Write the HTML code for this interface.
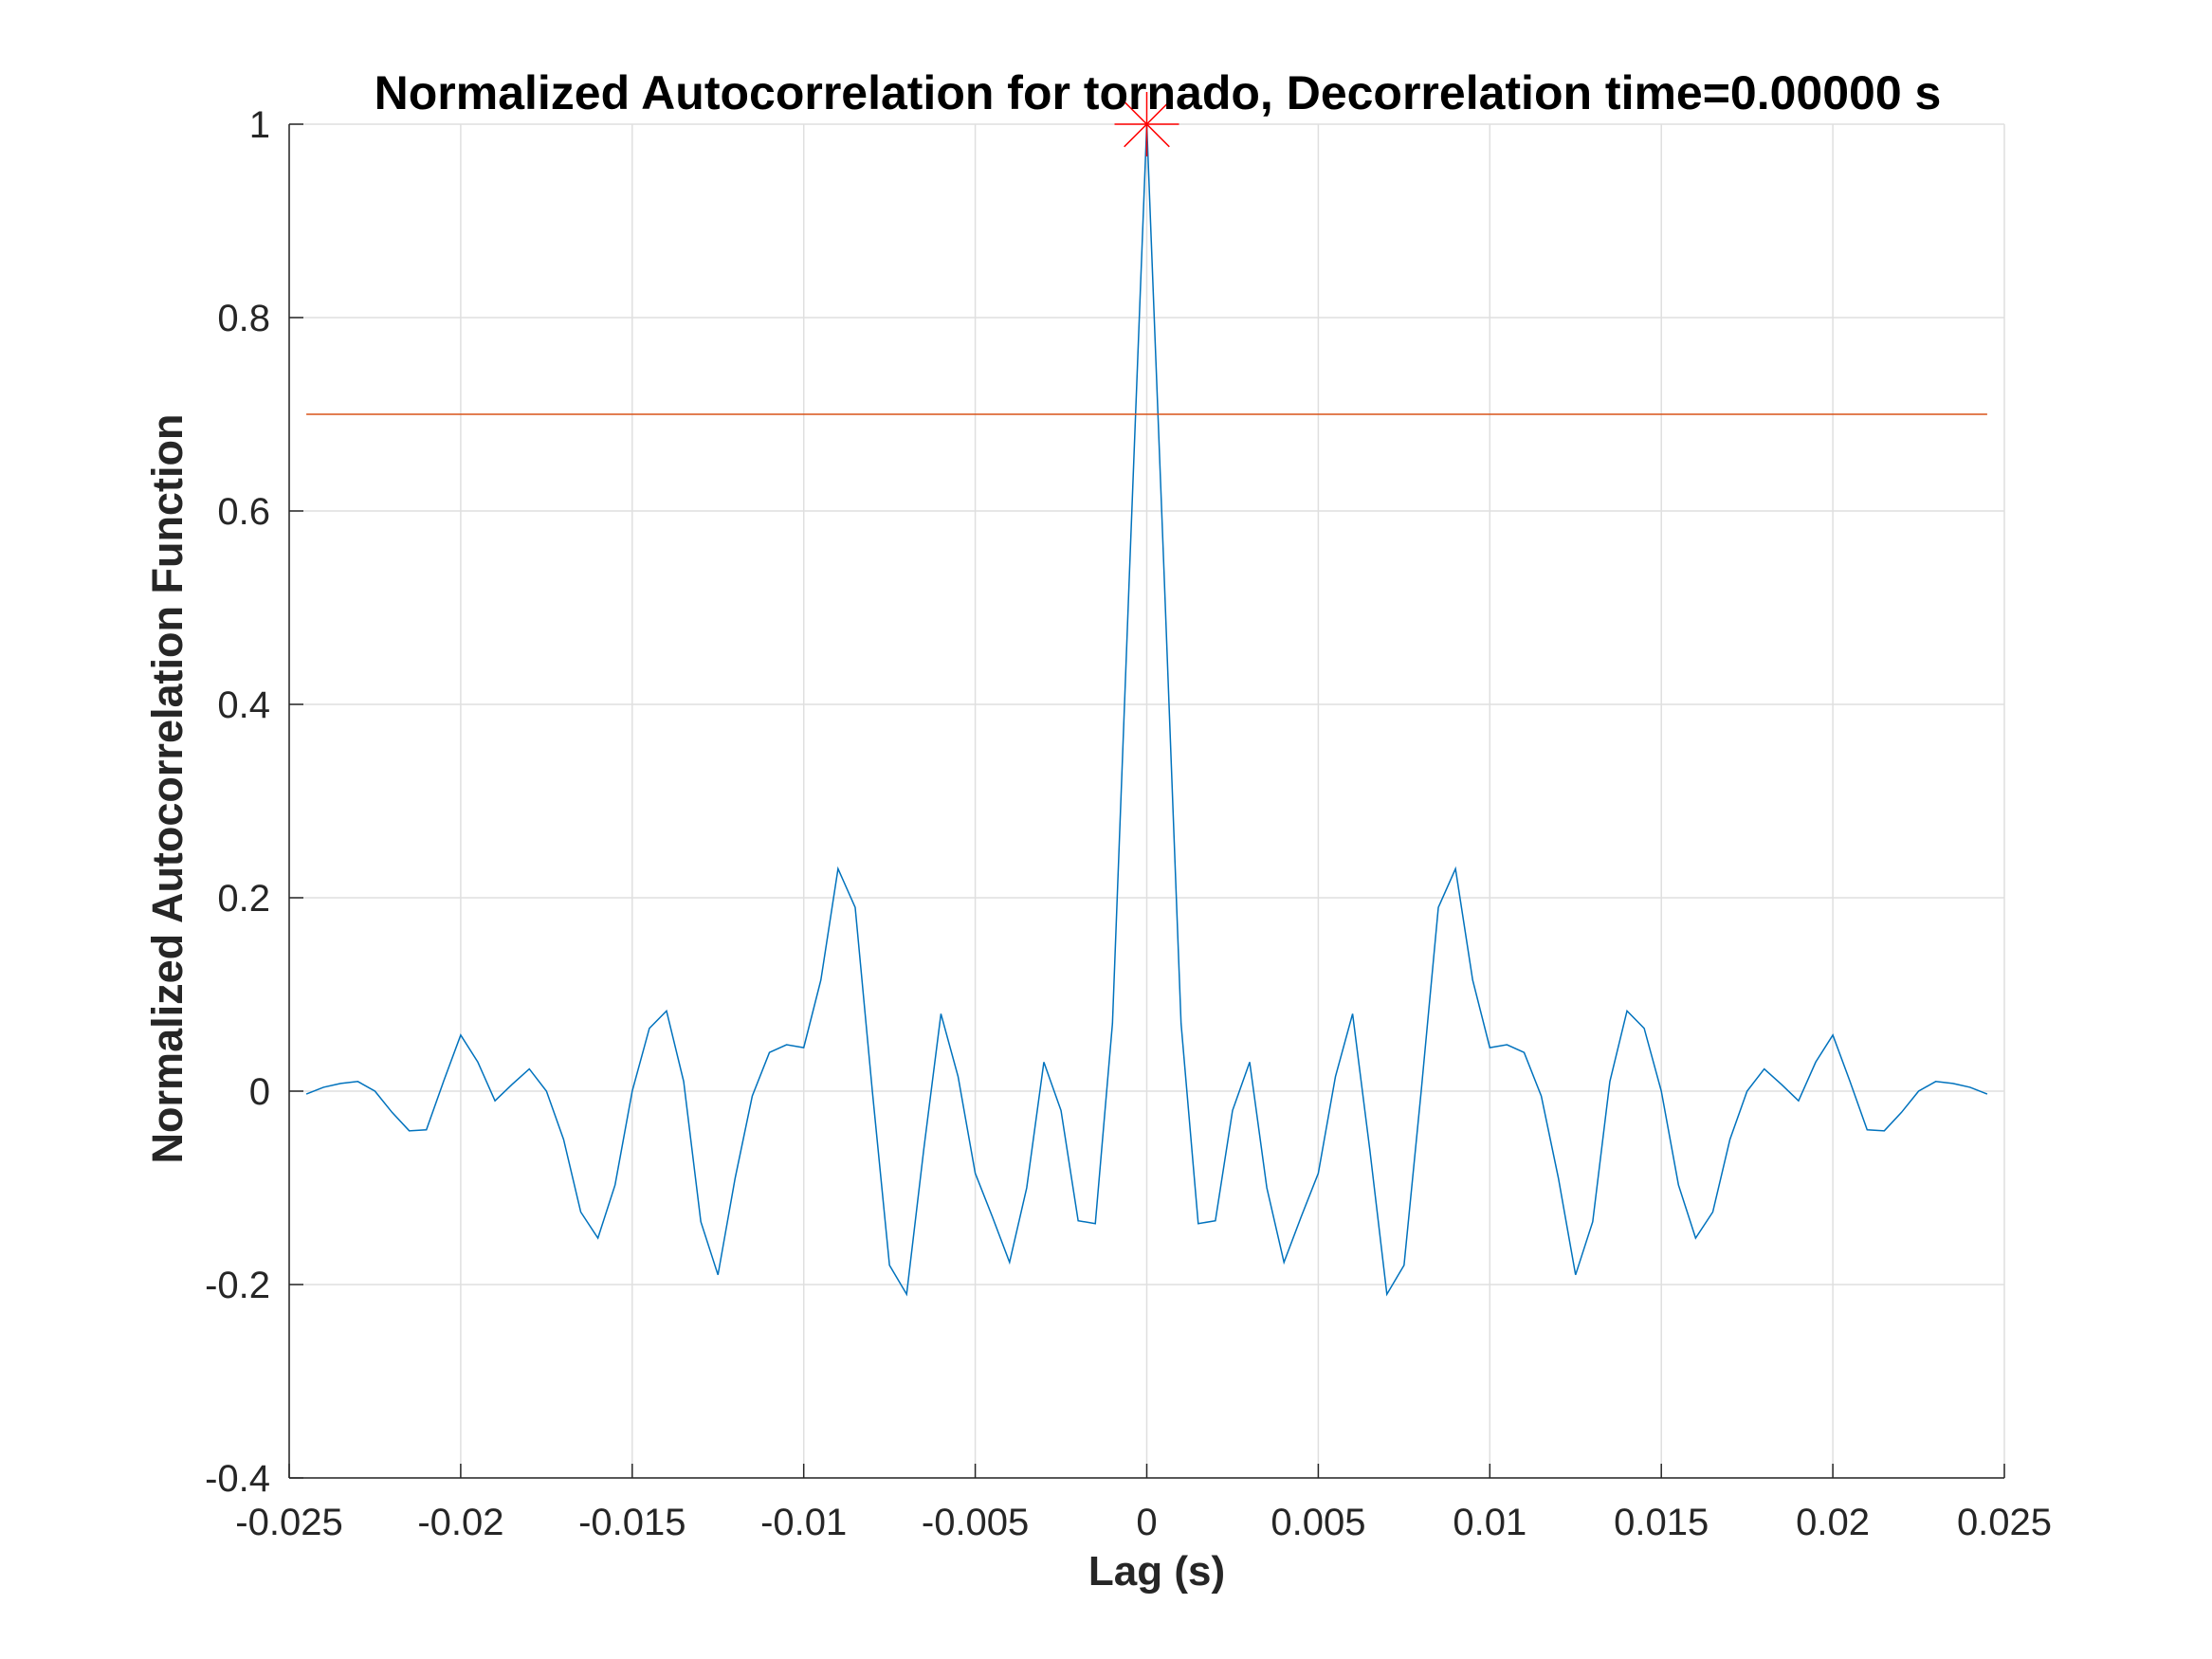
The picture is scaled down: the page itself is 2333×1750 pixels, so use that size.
<!DOCTYPE html>
<html><head><meta charset="utf-8"><style>
html,body{margin:0;padding:0;background:#fff;}
svg{display:block;font-family:"Liberation Sans",Arial,sans-serif;}
</style></head><body>
<svg id="chart" width="2333" height="1750" viewBox="0 0 2333 1750">
<rect width="2333" height="1750" fill="#fff"/>
<g id="grid"></g>
<g id="axes"></g>
<g id="series"></g>
<text x="1221" y="115" text-anchor="middle" font-size="50" font-weight="bold" fill="#000">Normalized Autocorrelation for tornado, Decorrelation time=0.00000 s</text>
<text x="1220" y="1672" text-anchor="middle" font-size="44" font-weight="bold" fill="#262626">Lag (s)</text>
<text x="0" y="0" transform="translate(192,832) rotate(-90)" text-anchor="middle" font-size="45" font-weight="bold" fill="#262626">Normalized Autocorrelation Function</text>
</svg>
<script>
const xTicks=[-0.025,-0.02,-0.015,-0.01,-0.005,0,0.005,0.01,0.015,0.02,0.025];
const xTickLabels=["-0.025","-0.02","-0.015","-0.01","-0.005","0","0.005","0.01","0.015","0.02","0.025"];
const yTicks=[-0.4,-0.2,0,0.2,0.4,0.6,0.8,1];
const yTickLabels=["-0.4","-0.2","0","0.2","0.4","0.6","0.8","1"];
const lagStep=0.0005;
const positiveLagValues=[0.54,0.07,-0.137,-0.134,-0.02,0.03,-0.10,-0.177,-0.13,-0.085,0.015,0.08,-0.06,-0.21,-0.18,0.0,0.19,0.23,0.115,0.045,0.048,0.04,-0.005,-0.09,-0.19,-0.135,0.01,0.083,0.065,0.0,-0.097,-0.152,-0.125,-0.05,0.0,0.023,0.007,-0.01,0.03,0.058,0.01,-0.04,-0.041,-0.022,0.0,0.01,0.008,0.004,-0.003];
const zeroLagValue=1;
const thresholdValue=0.7;
const thresholdRange=[-0.0245,0.0245];
const peakPoint=[0,1];

const L=305,R=2114,T=131,B=1559;
const xMin=-0.025,xMax=0.025,yMin=-0.4,yMax=1;
const sx=v=>L+(v-xMin)/(xMax-xMin)*(R-L);
const sy=v=>B-(v-yMin)/(yMax-yMin)*(B-T);
const NS="http://www.w3.org/2000/svg";
function mk(tag,attrs,parent){const e=document.createElementNS(NS,tag);for(const k in attrs)e.setAttribute(k,attrs[k]);parent.appendChild(e);return e;}
const grid=document.getElementById('grid'),axes=document.getElementById('axes'),series=document.getElementById('series');

xTicks.forEach((t,i)=>{
  const g=mk('line',{x1:sx(t),x2:sx(t),y1:T,y2:B,stroke:'#dfdfdf','stroke-width':1.5},grid);
  
  
  const tk=mk('line',{x1:sx(t),x2:sx(t),y1:B,y2:B-15,stroke:'#262626','stroke-width':1.5},axes);
  
  
  const lb=mk('text',{x:sx(t),y:B+60,'text-anchor':'middle','font-size':'40',fill:'#262626'},axes);
  lb.textContent=xTickLabels[i];
  
  
});
yTicks.forEach((t,i)=>{
  const g=mk('line',{x1:L,x2:R,y1:sy(t),y2:sy(t),stroke:'#dfdfdf','stroke-width':1.5},grid);
  
  
  const tk=mk('line',{x1:L,x2:L+15,y1:sy(t),y2:sy(t),stroke:'#262626','stroke-width':1.5},axes);
  
  
  const lb=mk('text',{x:L-20,y:sy(t)+14,'text-anchor':'end','font-size':'40',fill:'#262626'},axes);
  lb.textContent=yTickLabels[i];
  
  
});
const xa=mk('line',{x1:L,x2:R,y1:B,y2:B,stroke:'#262626','stroke-width':1.5},axes);


const ya=mk('line',{x1:L,x2:L,y1:T,y2:B,stroke:'#262626','stroke-width':1.5},axes);



const pts=[];
for(let i=positiveLagValues.length-1;i>=0;i--)pts.push([-(i+1)*lagStep,positiveLagValues[i]]);
pts.push([0,zeroLagValue]);
positiveLagValues.forEach((v,i)=>pts.push([(i+1)*lagStep,v]));
const acf=mk('polyline',{points:pts.map(p=>sx(p[0]).toFixed(2)+','+sy(p[1]).toFixed(2)).join(' '),fill:'none',stroke:'#0072bd','stroke-width':1.5},series);



const th=mk('line',{x1:sx(thresholdRange[0]),x2:sx(thresholdRange[1]),y1:sy(thresholdValue),y2:sy(thresholdValue),stroke:'#d95319','stroke-width':1.5},series);



const cx=sx(peakPoint[0]),cy=sy(peakPoint[1]),r=34;
const mg=mk('g',{stroke:'#ff0000','stroke-width':1.5},series);


mk('line',{x1:cx-r,x2:cx+r,y1:cy,y2:cy},mg);
mk('line',{x1:cx,x2:cx,y1:cy-r,y2:cy+r},mg);
mk('line',{x1:cx-r*0.7,x2:cx+r*0.7,y1:cy-r*0.7,y2:cy+r*0.7},mg);
mk('line',{x1:cx-r*0.7,x2:cx+r*0.7,y1:cy+r*0.7,y2:cy-r*0.7},mg);
</script>
</body></html>
